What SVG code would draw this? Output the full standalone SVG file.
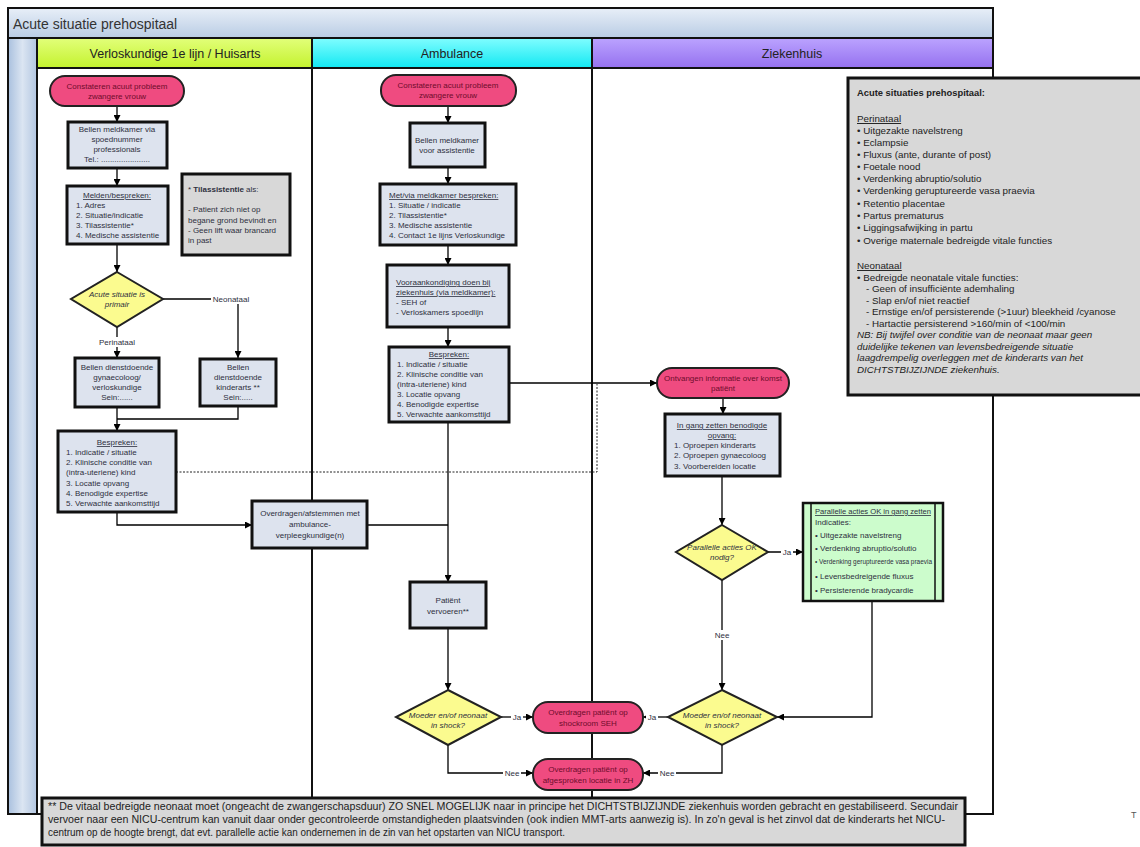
<svg xmlns="http://www.w3.org/2000/svg" width="1140" height="847" viewBox="0 0 1140 847">
<style>
.t{font-family:"Liberation Sans",Arial,sans-serif;font-size:8px;fill:#2e3040}
.m{text-anchor:middle}
.tt{fill:#6e0b2c}
.i{font-style:italic}
.u{text-decoration:underline}
.box{fill:#dde3ee;stroke:#111;stroke-width:3}
.term{fill:#ef4b80;stroke:#222;stroke-width:2}
.dia{fill:#fbfb8f;stroke:#222;stroke-width:2}
.note{fill:#d8d8d8;stroke:#111;stroke-width:3}
.green{fill:#ccfccc;stroke:#111;stroke-width:2.5}
.c{fill:none;stroke:#000;stroke-width:1.3}
.ca{fill:none;stroke:#000;stroke-width:1.3;marker-end:url(#ah)}
.lb{fill:#fff}
.lane{stroke:#111;stroke-width:2}
.info{font-family:"Liberation Sans",Arial,sans-serif;font-size:9.8px;fill:#222}
.foot{font-family:"Liberation Sans",Arial,sans-serif;font-size:10px;fill:#222}
.hd{font-family:"Liberation Sans",Arial,sans-serif;font-size:12.5px;fill:#222;text-anchor:middle}
</style>
<defs>
<marker id="ah" viewBox="0 0 10 10" refX="10" refY="5" markerWidth="7" markerHeight="7" markerUnits="userSpaceOnUse" orient="auto"><path d="M0,0 L10,5 L0,10 z" fill="#000"/></marker>
<linearGradient id="gTitle" x1="0" y1="0" x2="0" y2="1"><stop offset="0" stop-color="#e8eff8"/><stop offset="1" stop-color="#b9cce4"/></linearGradient>
<linearGradient id="gStrip" x1="0" y1="0" x2="1" y2="0"><stop offset="0" stop-color="#a9c0de"/><stop offset="0.5" stop-color="#dbe5f2"/><stop offset="1" stop-color="#b2c6e1"/></linearGradient>
<linearGradient id="gL1" x1="0" y1="0" x2="0" y2="1"><stop offset="0" stop-color="#e2ff7a"/><stop offset="1" stop-color="#c4f22e"/></linearGradient>
<linearGradient id="gL2" x1="0" y1="0" x2="0" y2="1"><stop offset="0" stop-color="#80fdff"/><stop offset="1" stop-color="#12e8f2"/></linearGradient>
<linearGradient id="gL3" x1="0" y1="0" x2="0" y2="1"><stop offset="0" stop-color="#bba3ff"/><stop offset="1" stop-color="#9571ef"/></linearGradient>
</defs>
<rect x="0" y="0" width="1140" height="847" fill="#fff"/>

<g id="frame">
<rect x="8" y="8" width="985" height="30" fill="url(#gTitle)"/>
<rect x="8" y="38" width="29" height="776" fill="url(#gStrip)"/>
<rect x="37" y="38" width="275" height="30" fill="url(#gL1)"/>
<rect x="312" y="38" width="280" height="30" fill="url(#gL2)"/>
<rect x="592" y="38" width="401" height="30" fill="url(#gL3)"/>
<rect x="8" y="8" width="985" height="806" fill="none" stroke="#111" stroke-width="2"/>
<line class="lane" x1="8" y1="38" x2="993" y2="38"/>
<line class="lane" x1="37" y1="68" x2="993" y2="68"/>
<line class="lane" x1="37" y1="38" x2="37" y2="814"/>
<line class="lane" x1="312" y1="38" x2="312" y2="814"/>
<line class="lane" x1="592" y1="38" x2="592" y2="814"/>
<text x="13" y="29" font-family="Liberation Sans,Arial,sans-serif" font-size="14" fill="#333">Acute situatie prehospitaal</text>
<text class="hd" x="175" y="58">Verloskundige 1e lijn / Huisarts</text>
<text class="hd" x="452" y="58">Ambulance</text>
<text class="hd" x="792" y="58">Ziekenhuis</text>
</g>

<g id="connectors">
<path class="ca" d="M117,106 V122"/>
<path class="ca" d="M117,168 V186"/>
<path class="ca" d="M117,244 V272"/>
<path class="ca" d="M163,299 H238 V358"/>
<path class="ca" d="M117,327 V358"/>
<path class="ca" d="M117,407 V431"/>
<path class="c" d="M238,406 V419 H117"/>
<path class="ca" d="M117,512 V525 H252"/>
<path fill="none" stroke="#222" stroke-width="1" stroke-dasharray="2,1.5" d="M176,472 H597 V384"/>
<path class="c" d="M367,525 H448"/>
<path class="ca" d="M448,106 V123"/>
<path class="ca" d="M448,167 V184"/>
<path class="ca" d="M448,245 V265"/>
<path class="ca" d="M448,327 V347"/>
<path class="ca" d="M509,383 H657"/>
<path class="ca" d="M448,422 V582"/>
<path class="ca" d="M448,628 V690"/>
<path class="ca" d="M501,717 H533"/>
<path class="ca" d="M448,745 V773 H533"/>
<path class="ca" d="M723,398 V414"/>
<path class="ca" d="M722,476 V525"/>
<path class="ca" d="M768,552 H803"/>
<path class="ca" d="M722,580 V690"/>
<path class="ca" d="M668,717 H643"/>
<path class="ca" d="M722,745 V773 H643"/>
<path class="ca" d="M872,601 V717 H777"/>
<rect class="lb" x="211" y="294" width="41" height="10"/>
<text class="t m" x="231" y="302">Neonataal</text>
<rect class="lb" x="98" y="337" width="39" height="10"/>
<text class="t m" x="117" y="345">Perinataal</text>
<rect class="lb" x="511" y="712" width="12" height="10"/>
<text class="t m" x="517" y="720">Ja</text>
<rect class="lb" x="503" y="768" width="18" height="10"/>
<text class="t m" x="512" y="776">Nee</text>
<rect class="lb" x="781" y="547" width="12" height="10"/>
<text class="t m" x="787" y="555">Ja</text>
<rect class="lb" x="713" y="630" width="18" height="10"/>
<text class="t m" x="722" y="638">Nee</text>
<rect class="lb" x="646" y="712" width="12" height="10"/>
<text class="t m" x="652" y="720">Ja</text>
<rect class="lb" x="658" y="768" width="18" height="10"/>
<text class="t m" x="667" y="776">Nee</text>
</g>

<g id="n_start1">
<rect class="term" x="50" y="76" width="134" height="30" rx="15"/>
<text class="t m tt" x="117" y="89">Constateren acuut probleem</text>
<text class="t m tt" x="117" y="99">zwangere vrouw</text>
</g>
<g id="n_bellen1">
<rect class="box" x="68" y="122" width="99" height="46"/>
<text class="t m" x="117" y="132">Bellen meldkamer via</text>
<text class="t m" x="117" y="142">spoednummer</text>
<text class="t m" x="117" y="152">professionals</text>
<text class="t m" x="117" y="162">Tel.: ......................</text>
</g>
<g id="n_melden">
<rect class="box" x="67" y="186" width="101" height="58"/>
<text class="t m u" x="117" y="198">Melden/bespreken:</text>
<text class="t" x="76" y="208">1. Adres</text>
<text class="t" x="76" y="218">2. Situatie/indicatie</text>
<text class="t" x="76" y="228">3. Tilassistentie*</text>
<text class="t" x="76" y="238">4. Medische assistentie</text>
</g>
<g id="n_til">
<rect class="note" x="182" y="174" width="108" height="81"/>
<text class="t" x="188" y="192">* <tspan font-weight="bold">Tilassistentie</tspan> als:</text>
<text class="t" x="188" y="212">- Patient zich niet op</text>
<text class="t" x="188" y="223">begane grond bevindt en</text>
<text class="t" x="188" y="233">- Geen lift waar brancard</text>
<text class="t" x="188" y="243">in past</text>
</g>
<g id="n_primair">
<polygon class="dia" points="117,272 163,299 117,327 71,299"/>
<text class="t m i" x="117" y="297">Acute situatie is</text>
<text class="t m i" x="117" y="307">primair</text>
</g>
<g id="n_gyn">
<rect class="box" x="75" y="358" width="84" height="49"/>
<text class="t m" x="117" y="370">Bellen dienstdoende</text>
<text class="t m" x="117" y="380">gynaecoloog/</text>
<text class="t m" x="117" y="390">verloskundige</text>
<text class="t m" x="117" y="400">Sein:......</text>
</g>
<g id="n_kind">
<rect class="box" x="200" y="359" width="76" height="47"/>
<text class="t m" x="238" y="370">Bellen</text>
<text class="t m" x="238" y="380">dienstdoende</text>
<text class="t m" x="238" y="390">kinderarts **</text>
<text class="t m" x="238" y="400">Sein:.....</text>
</g>
<g id="n_besp1">
<rect class="box" x="58" y="431" width="118" height="81"/>
<text class="t m u" x="117" y="445">Bespreken:</text>
<text class="t" x="66" y="455">1. Indicatie / situatie</text>
<text class="t" x="66" y="465">2. Klinische conditie van</text>
<text class="t" x="66" y="475">(intra-uteriene) kind</text>
<text class="t" x="66" y="486">3. Locatie opvang</text>
<text class="t" x="66" y="496">4. Benodigde expertise</text>
<text class="t" x="66" y="506">5. Verwachte aankomsttijd</text>
</g>
<g id="n_overdragen">
<rect class="box" x="252" y="501" width="115" height="47"/>
<text class="t m" x="310" y="516">Overdragen/afstemmen met</text>
<text class="t m" x="310" y="527">ambulance-</text>
<text class="t m" x="310" y="538">verpleegkundige(n)</text>
</g>

<g id="n_start2">
<rect class="term" x="381" y="75" width="135" height="31" rx="15"/>
<text class="t m tt" x="448" y="88">Constateren acuut probleem</text>
<text class="t m tt" x="448" y="98">zwangere vrouw</text>
</g>
<g id="n_bellen2">
<rect class="box" x="410" y="123" width="75" height="44"/>
<text class="t m" x="447" y="143">Bellen meldkamer</text>
<text class="t m" x="447" y="153">voor assistentie</text>
</g>
<g id="n_metvia">
<rect class="box" x="380" y="184" width="136" height="61"/>
<text class="t u" x="389" y="198">Met/via meldkamer bespreken:</text>
<text class="t" x="389" y="208">1. Situatie / indicatie</text>
<text class="t" x="389" y="218">2. Tilassistentie*</text>
<text class="t" x="389" y="228">3. Medische assistentie</text>
<text class="t" x="389" y="238">4. Contact 1e lijns Verloskundige</text>
</g>
<g id="n_voor">
<rect class="box" x="387" y="265" width="122" height="62"/>
<text class="t u" x="396" y="285">Vooraankondiging doen bij</text>
<text class="t u" x="396" y="295">ziekenhuis (via meldkamer):</text>
<text class="t" x="396" y="305">- SEH of</text>
<text class="t" x="396" y="315">- Verloskamers spoedlijn</text>
</g>
<g id="n_besp2">
<rect class="box" x="389" y="347" width="120" height="75"/>
<text class="t m u" x="449" y="357">Bespreken:</text>
<text class="t" x="397" y="367">1. Indicatie / situatie</text>
<text class="t" x="397" y="377">2. Klinische conditie van</text>
<text class="t" x="397" y="387">(intra-uteriene) kind</text>
<text class="t" x="397" y="397">3. Locatie opvang</text>
<text class="t" x="397" y="407">4. Benodigde expertise</text>
<text class="t" x="397" y="417">5. Verwachte aankomsttijd</text>
</g>
<g id="n_vervoeren">
<rect class="box" x="410" y="582" width="76" height="46"/>
<text class="t m" x="448" y="603">Patiënt</text>
<text class="t m" x="448" y="614">vervoeren**</text>
</g>
<g id="n_shock1">
<polygon class="dia" points="448,690 501,717 448,745 396,717"/>
<text class="t m i" x="448" y="718">Moeder en/of neonaat</text>
<text class="t m i" x="448" y="728">in shock?</text>
</g>
<g id="n_shockroom">
<rect class="term" x="533" y="702" width="110" height="31" rx="15"/>
<text class="t m tt" x="588" y="715">Overdragen patiënt op</text>
<text class="t m tt" x="588" y="726">shockroom SEH</text>
</g>
<g id="n_locatie">
<rect class="term" x="533" y="759" width="110" height="31" rx="15"/>
<text class="t m tt" x="588" y="772">Overdragen patiënt op</text>
<text class="t m tt" x="588" y="783">afgesproken locatie in ZH</text>
</g>

<g id="n_ontvangen">
<rect class="term" x="657" y="368" width="132" height="30" rx="15"/>
<text class="t m tt" x="723" y="381">Ontvangen informatie over komst</text>
<text class="t m tt" x="723" y="391">patiënt</text>
</g>
<g id="n_ingang">
<rect class="box" x="665" y="414" width="115" height="62"/>
<text class="t m u" x="722" y="428">In gang zetten benodigde</text>
<text class="t m u" x="722" y="438">opvang:</text>
<text class="t" x="674" y="448">1. Oproepen kinderarts</text>
<text class="t" x="674" y="458">2. Oproepen gynaecoloog</text>
<text class="t" x="674" y="469">3. Voorbereiden locatie</text>
</g>
<g id="n_parallel">
<polygon class="dia" points="722,525 768,552 722,580 676,552"/>
<text class="t m i" x="722" y="550">Parallelle acties OK</text>
<text class="t m i" x="722" y="560">nodig?</text>
</g>
<g id="n_green">
<rect class="green" x="803" y="503" width="140" height="98"/>
<line x1="811" y1="503" x2="811" y2="601" stroke="#111" stroke-width="1.5"/>
<line x1="935" y1="503" x2="935" y2="601" stroke="#111" stroke-width="1.5"/>
<text class="t u" x="815" y="514" font-size="7.2" textLength="116" lengthAdjust="spacingAndGlyphs">Parallelle acties OK in gang zetten</text>
<text class="t" x="815" y="525" font-size="7.2">Indicaties:</text>
<text class="t" x="815" y="538" font-size="7.2">•  Uitgezakte navelstreng</text>
<text class="t" x="815" y="551" font-size="7.2">•  Verdenking abruptio/solutio</text>
<text class="t" x="815" y="564" font-size="7.2" textLength="117" lengthAdjust="spacingAndGlyphs">•  Verdenking geruptureerde vasa praevia</text>
<text class="t" x="815" y="579" font-size="7.2">•  Levensbedreigende fluxus</text>
<text class="t" x="815" y="593" font-size="7.2">•  Persisterende bradycardie</text>
</g>
<g id="n_shock2">
<polygon class="dia" points="722,690 777,717 722,745 668,717"/>
<text class="t m i" x="722" y="718">Moeder en/of neonaat</text>
<text class="t m i" x="722" y="728">in shock?</text>
</g>

<g id="n_info">
<rect class="note" x="848" y="78" width="300" height="317"/>
<text class="info" x="857" y="96" font-weight="bold" textLength="128" lengthAdjust="spacingAndGlyphs">Acute situaties prehospitaal:</text>
<text class="info u" x="857" y="122">Perinataal</text>
<text class="info" x="857" y="134">• Uitgezakte navelstreng</text>
<text class="info" x="857" y="146">• Eclampsie</text>
<text class="info" x="857" y="158">• Fluxus (ante, durante of post)</text>
<text class="info" x="857" y="170">• Foetale nood</text>
<text class="info" x="857" y="182">• Verdenking abruptio/solutio</text>
<text class="info" x="857" y="194">• Verdenking geruptureerde vasa praevia</text>
<text class="info" x="857" y="207">• Retentio placentae</text>
<text class="info" x="857" y="219">• Partus prematurus</text>
<text class="info" x="857" y="231">• Liggingsafwijking in partu</text>
<text class="info" x="857" y="244">• Overige maternale bedreigde vitale functies</text>
<text class="info u" x="857" y="269">Neonataal</text>
<text class="info" x="857" y="281">• Bedreigde neonatale vitale functies:</text>
<text class="info" x="866" y="292">- Geen of insufficiënte ademhaling</text>
<text class="info" x="866" y="304">- Slap en/of niet reactief</text>
<text class="info" x="866" y="315">- Ernstige en/of persisterende (&gt;1uur) bleekheid /cyanose</text>
<text class="info" x="866" y="327">- Hartactie persisterend &gt;160/min of &lt;100/min</text>
<text class="info i" x="857" y="338">NB: Bij twijfel over conditie van de neonaat maar geen</text>
<text class="info i" x="857" y="350">duidelijke tekenen van levensbedreigende situatie</text>
<text class="info i" x="857" y="361">laagdrempelig overleggen met de kinderarts van het</text>
<text class="info i" x="857" y="373">DICHTSTBIJZIJNDE ziekenhuis.</text>
</g>

<g id="n_footnote">
<rect class="note" x="42" y="798" width="923" height="47" stroke-width="2"/>
<text class="foot" x="48" y="810" textLength="910" lengthAdjust="spacingAndGlyphs">** De vitaal bedreigde neonaat moet (ongeacht de zwangerschapsduur) ZO SNEL MOGELIJK naar in principe het DICHTSTBIJZIJNDE ziekenhuis worden gebracht en gestabiliseerd. Secundair</text>
<text class="foot" x="48" y="823" textLength="897" lengthAdjust="spacingAndGlyphs">vervoer naar een NICU-centrum kan vanuit daar onder gecontroleerde omstandigheden plaatsvinden (ook indien MMT-arts aanwezig is). In zo'n geval is het zinvol dat de kinderarts het NICU-</text>
<text class="foot" x="48" y="836" textLength="517" lengthAdjust="spacingAndGlyphs">centrum op de hoogte brengt, dat evt. parallelle actie kan ondernemen in de zin van het opstarten van NICU transport.</text>
</g>
<text x="1131" y="818" font-family="Liberation Sans,Arial,sans-serif" font-size="9" fill="#555">T</text>
</svg>
